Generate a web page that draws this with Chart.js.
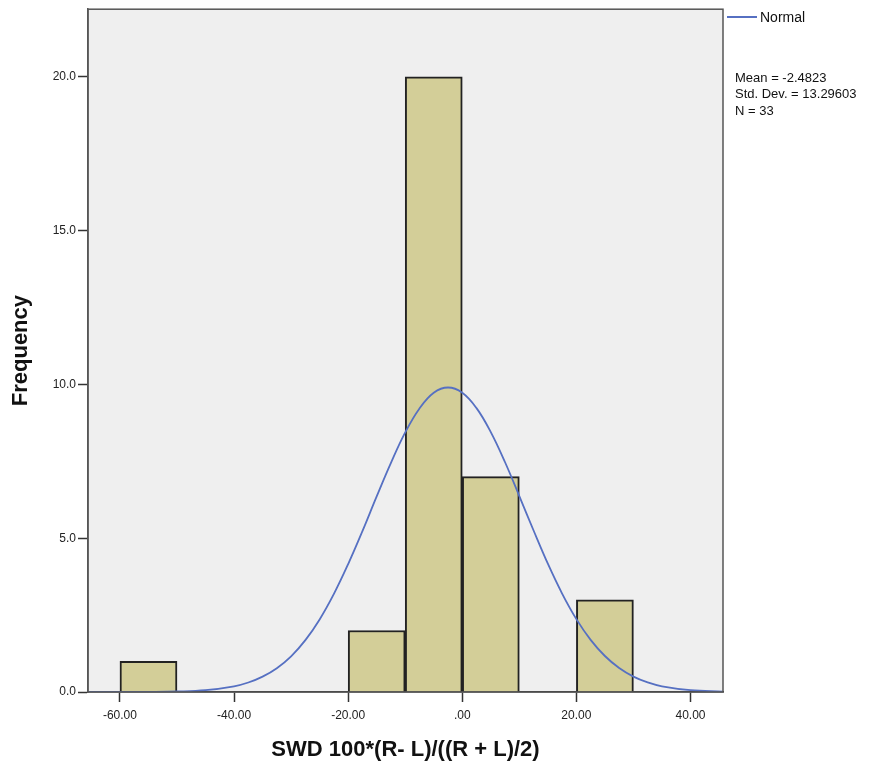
<!DOCTYPE html>
<html>
<head>
<meta charset="utf-8">
<script src="https://cdn.jsdelivr.net/npm/chart.js@4"></script>
<style>
  html, body { margin: 0; padding: 0; background: #fff; }
  #wrap { width: 882px; height: 768px; }
</style>
</head>
<body>
<div id="wrap"><canvas id="hist"></canvas></div>
<script>
// histogram bins (centres) and counts
const binCenters = [-55, -15, -5, 5, 25];
const binCounts = [1, 2, 20, 7, 3];

// normal curve
const curveX = [-65.6, -60, -55, -50, -45, -40, -37.5, -35, -32.5, -30, -27.5, -25, -22.5, -20, -17.5, -15, -12.5, -10, -7.5, -5, -2.5,
    0, 2.5, 5, 7.5, 10, 12.5, 15, 17.5, 20, 22.5, 25, 27.5, 30, 32.5, 35, 40, 45.7];
const curveY = [0.0, 0.001, 0.004, 0.017, 0.059, 0.185, 0.309, 0.50, 0.775, 1.16, 1.686, 2.36, 3.19, 4.16, 5.23, 6.36, 7.45, 8.44, 9.22, 9.73, 9.90,
    9.73, 9.23, 8.45, 7.47, 6.37, 5.25, 4.17, 3.20, 2.37, 1.695, 1.17, 0.779, 0.50, 0.311, 0.186, 0.060, 0.013];

const xTicks = [-60, -40, -20, 0, 20, 40];
const xTickLabels = ['-60.00', '-40.00', '-20.00', '.00', '20.00', '40.00'];
const yTicks = [0, 5, 10, 15, 20];
const yTickLabels = ['0.0', '5.0', '10.0', '15.0', '20.0'];

const statLines = ['Mean = -2.4823', 'Std. Dev. = 13.29603', 'N = 33'];

const FONT = '"Liberation Sans", Arial, sans-serif';
const curveColor = '#5670c2';

const framePlugin = {
    id: 'frame',
    beforeDraw(chart) {
        const { ctx, chartArea: a } = chart;
        ctx.save();
        ctx.fillStyle = '#efefef';
        ctx.fillRect(a.left, a.top, a.right - a.left, a.bottom - a.top);
        ctx.restore();
    },
    afterDraw(chart) {
        const { ctx, chartArea: a } = chart;
        ctx.save();
        ctx.strokeStyle = '#555';
        ctx.lineWidth = 1.5;
        ctx.strokeRect(a.left, a.top, a.right - a.left, a.bottom - a.top);

        // legend entry
        ctx.strokeStyle = curveColor;
        ctx.lineWidth = 2;
        ctx.beginPath();
        ctx.moveTo(727, 17);
        ctx.lineTo(757, 17);
        ctx.stroke();
        ctx.fillStyle = '#111';
        ctx.font = '14px ' + FONT;
        ctx.textBaseline = 'middle';
        ctx.fillText('Normal', 760, 18);

        ctx.font = '13px ' + FONT;
        statLines.forEach((t, i) => ctx.fillText(t, 735, 78 + i * 16.5));
        ctx.restore();
    }
};

new Chart(document.getElementById('hist').getContext('2d'), {
    type: 'bar',
    data: {
        datasets: [{
            type: 'line',
            label: 'Normal',
            data: curveX.map((x, i) => ({ x: x, y: curveY[i] })),
            borderColor: curveColor,
            borderWidth: 1.8,
            pointRadius: 0,
            tension: 0.4,
            fill: false,
            order: 0
        }, {
            type: 'bar',
            label: 'Frequency',
            data: binCenters.map((x, i) => ({ x: x, y: binCounts[i] })),
            backgroundColor: '#d3ce98',
            borderColor: '#222',
            borderWidth: 2,
            barPercentage: 1,
            categoryPercentage: 1,
            order: 1
        }]
    },
    options: {
        responsive: true,
        maintainAspectRatio: false,
        animation: false,
        layout: { padding: { top: 7, right: 159, left: 0, bottom: 0 } },
        plugins: {
            legend: { display: false },
            tooltip: { enabled: false }
        },
        scales: {
            x: {
                type: 'linear',
                min: -65.6,
                max: 45.7,
                offset: false,
                afterBuildTicks: s => { s.ticks = xTicks.map(v => ({ value: v })); },
                afterFit: s => { s.height = 76; },
                ticks: {
                    autoSkip: false,
                    maxRotation: 0,
                    padding: 6,
                    color: '#222',
                    font: { family: FONT, size: 12 },
                    callback: v => xTickLabels[xTicks.indexOf(v)]
                },
                grid: { drawOnChartArea: false, offset: false, tickLength: 10, color: '#333', tickWidth: 1.5 },
                border: { display: true, color: '#333', width: 1.5 },
                title: {
                    display: true,
                    text: 'SWD 100*(R- L)/((R + L)/2)',
                    color: '#111',
                    font: { family: FONT, size: 22, weight: 'bold' },
                    padding: { top: 0, bottom: 5 }
                }
            },
            y: {
                min: 0,
                max: 22.2,
                afterBuildTicks: s => { s.ticks = yTicks.map(v => ({ value: v })); },
                afterFit: s => { s.width = 88; },
                ticks: {
                    padding: 2,
                    color: '#222',
                    font: { family: FONT, size: 12 },
                    callback: v => yTickLabels[yTicks.indexOf(v)]
                },
                grid: { drawOnChartArea: false, tickLength: 10, color: '#333', tickWidth: 1.5 },
                border: { display: true, color: '#555', width: 1.5 },
                title: {
                    display: true,
                    text: 'Frequency',
                    color: '#111',
                    font: { family: FONT, size: 22, weight: 'bold' },
                    padding: { top: 8, bottom: 0 }
                }
            }
        }
    },
    plugins: [framePlugin]
});
</script>
</body>
</html>
